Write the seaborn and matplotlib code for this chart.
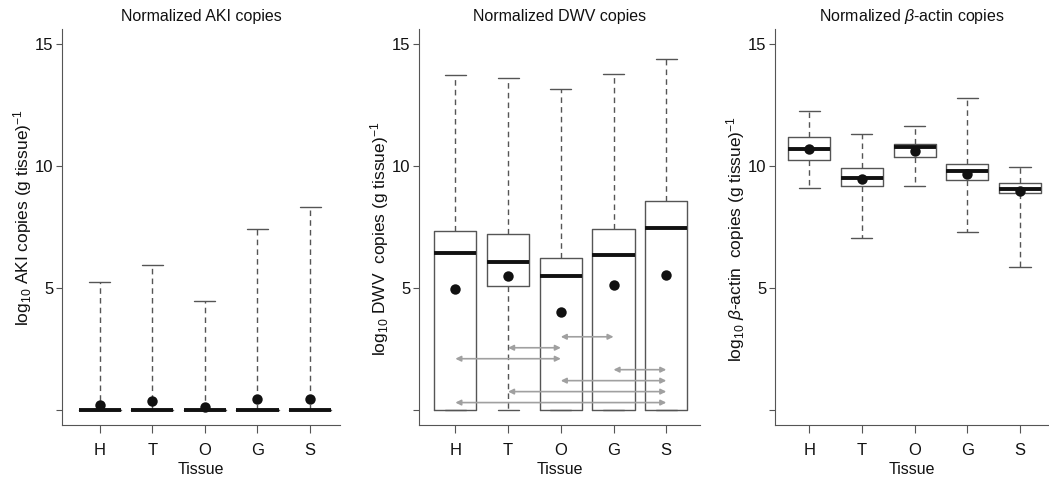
import numpy as np
import pandas as pd
import matplotlib
matplotlib.use('Agg')
import matplotlib.pyplot as plt
import seaborn as sns

# five-number summaries: whisker low, Q1, median, Q3, whisker high
tissues = ['H', 'T', 'O', 'G', 'S']

aki_low = [0, 0, 0, 0, 0]
aki_q1 = [0, 0, 0, 0, 0]
aki_med = [0, 0, 0, 0, 0]
aki_q3 = [0, 0, 0, 0, 0]
aki_high = [5.24, 5.95, 4.45, 7.43, 8.32]
aki_mean = [0.20, 0.37, 0.10, 0.46, 0.43]

dwv_low = [0, 0, 0, 0, 0]
dwv_q1 = [0, 5.08, 0, 0, 0]
dwv_med = [6.45, 6.05, 5.48, 6.34, 7.45]
dwv_q3 = [7.34, 7.20, 6.25, 7.42, 8.58]
dwv_high = [13.73, 13.6, 13.15, 13.8, 14.4]
dwv_mean = [4.97, 5.50, 4.00, 5.12, 5.52]

act_low = [9.10, 7.06, 9.17, 7.30, 5.88]
act_q1 = [10.27, 9.18, 10.39, 9.43, 8.90]
act_med = [10.70, 9.53, 10.80, 9.80, 9.08]
act_q3 = [11.20, 9.93, 10.93, 10.10, 9.30]
act_high = [12.27, 11.32, 11.65, 12.80, 9.96]
act_mean = [10.70, 9.47, 10.63, 9.69, 9.00]

# significance arrows in the DWV panel: (from tissue, to tissue, height)
arrow_from = ['O', 'T', 'H', 'G', 'O', 'T', 'H']
arrow_to = ['G', 'O', 'O', 'S', 'S', 'S', 'S']
arrow_y = [3.0, 2.55, 2.1, 1.65, 1.2, 0.75, 0.3]


def long_form(low, q1, med, q3, high):
    rows = []
    for i, t in enumerate(tissues):
        for v in (low[i], q1[i], med[i], q3[i], high[i]):
            rows.append({'Tissue': t, 'value': v})
    return pd.DataFrame(rows)


sns.set_style('ticks')
plt.rcParams['font.family'] = ['Liberation Sans', 'DejaVu Sans']
plt.rcParams['mathtext.fontset'] = 'custom'
plt.rcParams['mathtext.rm'] = 'Liberation Sans'
plt.rcParams['mathtext.it'] = 'Liberation Sans:italic'
plt.rcParams['text.color'] = '#111111'
plt.rcParams['axes.labelcolor'] = '#111111'
plt.rcParams['xtick.color'] = '#111111'
plt.rcParams['ytick.color'] = '#111111'

fig = plt.figure(figsize=(10.49, 4.79), dpi=100)
bottom, top = 1 - 425 / 479, 1 - 29 / 479
boxes = [(62, 340), (419, 700), (775, 1049)]
axes = [fig.add_axes([l / 1049, bottom, (r - l) / 1049, top - bottom]) for l, r in boxes]

panels = [
    (long_form(aki_low, aki_q1, aki_med, aki_q3, aki_high), aki_mean,
     'Normalized AKI copies', r'log$_{10}$ AKI copies (g tissue)$^{-1}$', 0.525),
    (long_form(dwv_low, dwv_q1, dwv_med, dwv_q3, dwv_high), dwv_mean,
     'Normalized DWV copies', r'log$_{10}$ DWV  copies (g tissue)$^{-1}$', 0.47),
    (long_form(act_low, act_q1, act_med, act_q3, act_high), act_mean,
     r'Normalized $\beta$-actin copies', r'log$_{10}$ $\beta$-actin  copies (g tissue)$^{-1}$', 0.47),
]

edge = '#555555'
for ax, (df, means, title, ylab, ly) in zip(axes, panels):
    sns.boxplot(data=df, x='Tissue', y='value', order=tissues, whis=(0, 100),
                width=0.8, fill=False, color=edge, linewidth=1, showfliers=False,
                medianprops=dict(color='#111111', linewidth=2.8),
                whiskerprops=dict(color=edge, linestyle=(0, (4, 3))),
                capprops=dict(color=edge), ax=ax)
    sns.stripplot(x=tissues, y=means, order=tissues, jitter=False, color='#111111',
                  size=7.5, zorder=5, ax=ax)
    ax.set_ylim(-0.62, 15.63)
    ax.set_yticks([0, 5, 10, 15])
    ax.set_yticklabels(['', '5', '10', '15'])
    ax.set_title(title, fontsize=11.5, pad=6)
    ax.set_ylabel(ylab, fontsize=12.5, labelpad=1)
    ax.yaxis.label.set_y(ly)
    ax.set_xlabel('Tissue', fontsize=11.5, labelpad=3)
    ax.tick_params(axis='x', length=6, pad=7, labelsize=12, color=edge)
    ax.tick_params(axis='y', length=4, pad=2, labelsize=12, color=edge)
    for s in ['left', 'bottom']:
        ax.spines[s].set_color(edge)
    sns.despine(ax=ax)

axes[0].set_xlim(-0.72, 4.57)
axes[1].set_xlim(-0.69, 4.64)
axes[2].set_xlim(-0.65, 4.55)

ax = axes[1]
for a, b, y in zip(arrow_from, arrow_to, arrow_y):
    ax.annotate('', xy=(tissues.index(b), y), xytext=(tissues.index(a), y),
                arrowprops=dict(arrowstyle='<|-|>', color='#a0a0a0', lw=1.2,
                                mutation_scale=8, shrinkA=0, shrinkB=0))

fig.savefig('out.png', dpi=100)
